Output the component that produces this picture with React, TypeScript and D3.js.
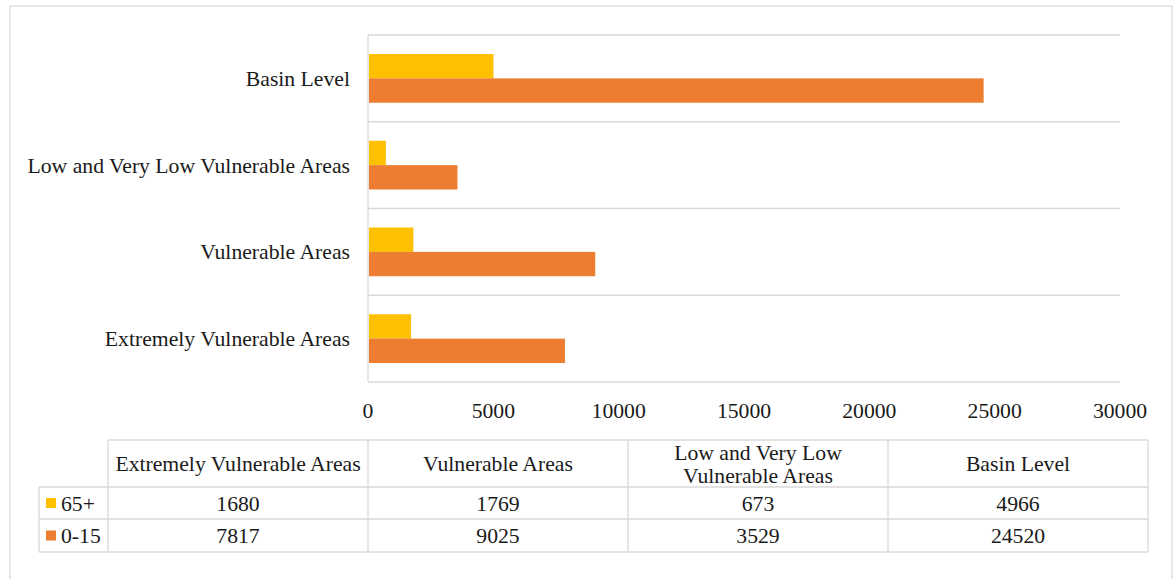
import React from 'react';
import * as d3 from 'd3';

// categories, listed as in the data table (bottom to top in the chart)
const categories = ['Extremely Vulnerable Areas', 'Vulnerable Areas', 'Low and Very Low Vulnerable Areas', 'Basin Level'];
const seriesNames = ['65+', '0-15'];
const old65 = [1680, 1769, 673, 4966];
const young015 = [7817, 9025, 3529, 24520];
const xTicks = [0, 5000, 10000, 15000, 20000, 25000, 30000];
const headerLines: Record<string, string[]> = {
  'Low and Very Low Vulnerable Areas': ['Low and Very Low', 'Vulnerable Areas'],
};

const colors: Record<string, string> = { '65+': '#FFC000', '0-15': '#ED7D31' };
const values: Record<string, number[]> = { '65+': old65, '0-15': young015 };

const width = 1173;
const height = 579;
const plot = { left: 368, right: 1120, top: 35, bottom: 382 };
const grid = '#d9d9d9';
const fs = 21.7;
const txt = { fontFamily: '"Liberation Serif", "Times New Roman", serif', fontSize: fs, fill: '#1a1a1a' };

const x = d3.scaleLinear().domain([0, 30000]).range([plot.left, plot.right]);
const y = d3.scaleBand<string>()
  .domain([...categories].reverse())
  .range([plot.top, plot.bottom]);
const inner = d3.scaleBand<string>()
  .domain(seriesNames)
  .range([0, y.bandwidth()])
  .paddingInner(0)
  .paddingOuter(0.78);

// table geometry
const tbl = { left: 39, first: 108, right: 1148, top: 440, head: 487, row1: 519, bottom: 552 };
const col = d3.scaleBand<string>().domain(categories).range([tbl.first, tbl.right]);
const rowTops = [tbl.head, tbl.row1];
const rowBottoms = [tbl.row1, tbl.bottom];

export default function App() {
  return (
    <svg width={width} height={height} style={{ position: 'absolute', left: 0, top: 0 }}>
      <rect x={0} y={0} width={width} height={height} fill="#fff" />
      <rect x={10} y={6} width={1162} height={620} fill="none" stroke={grid} strokeWidth={1.2} />

      {/* gridlines between categories */}
      {y.domain().map(c => (
        <line key={c} x1={plot.left} x2={plot.right} y1={y(c)!} y2={y(c)!} stroke={grid} strokeWidth={1.3} />
      ))}
      <line x1={plot.left} x2={plot.right} y1={plot.bottom} y2={plot.bottom} stroke={grid} strokeWidth={1.3} />
      <line x1={plot.left} x2={plot.left} y1={plot.top} y2={plot.bottom} stroke={grid} strokeWidth={1.3} />

      {/* bars */}
      {categories.map((c, i) => seriesNames.map(s => (
        <rect key={c + s} x={x(0) + 1} y={y(c)! + inner(s)!} width={x(values[s][i]) - x(0)} height={inner.bandwidth()} fill={colors[s]} />
      )))}

      {/* category labels */}
      {categories.map(c => (
        <text key={c} x={plot.left - 18} y={y(c)! + y.bandwidth() / 2} dy="0.35em" textAnchor="end" style={txt}>{c}</text>
      ))}

      {/* x tick labels */}
      {xTicks.map(t => (
        <text key={t} x={x(t)} y={410} dy="0.35em" textAnchor="middle" style={txt}>{t}</text>
      ))}

      {/* data table */}
      <g stroke={grid} strokeWidth={1.3} fill="none">
        <line x1={tbl.first} x2={tbl.right} y1={tbl.top} y2={tbl.top} />
        <line x1={tbl.left} x2={tbl.right} y1={tbl.head} y2={tbl.head} />
        <line x1={tbl.left} x2={tbl.right} y1={tbl.row1} y2={tbl.row1} />
        <line x1={tbl.left} x2={tbl.right} y1={tbl.bottom} y2={tbl.bottom} />
        <line x1={tbl.left} x2={tbl.left} y1={tbl.head} y2={tbl.bottom} />
        {categories.map(c => (
          <line key={c} x1={col(c)!} x2={col(c)!} y1={tbl.top} y2={tbl.bottom} />
        ))}
        <line x1={tbl.right} x2={tbl.right} y1={tbl.top} y2={tbl.bottom} />
      </g>
      {categories.map(c => {
        const lines = headerLines[c] || [c];
        const cx = col(c)! + col.bandwidth() / 2;
        const cy = (tbl.top + tbl.head) / 2;
        return (
          <text key={c} x={cx} textAnchor="middle" style={txt}>
            {lines.map((l, k) => (
              <tspan key={k} x={cx} y={cy + (k - (lines.length - 1) / 2) * 23} dy="0.35em">{l}</tspan>
            ))}
          </text>
        );
      })}
      {seriesNames.map((s, r) => {
        const cy = (rowTops[r] + rowBottoms[r]) / 2;
        return (
          <g key={s}>
            <rect x={46} y={cy - 5} width={10} height={10} fill={colors[s]} />
            <text x={61} y={cy} dy="0.35em" style={txt}>{s}</text>
            {categories.map((c, i) => (
              <text key={c} x={col(c)! + col.bandwidth() / 2} y={cy} dy="0.35em" textAnchor="middle" style={txt}>{values[s][i]}</text>
            ))}
          </g>
        );
      })}
    </svg>
  );
}
